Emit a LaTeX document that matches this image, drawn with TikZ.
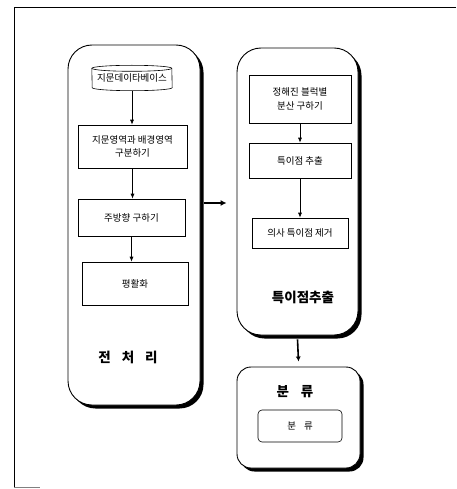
\documentclass[tikz,border=0pt]{standalone}
\usepackage{fontspec}
\setmainfont{Noto Sans CJK KR}
\usetikzlibrary{arrows.meta,shadows}
\tikzset{
  panel/.style={draw, line width=0.9pt, rounded corners=24pt, fill=white,
    drop shadow={shadow xshift=3.5pt, shadow yshift=-3.5pt, fill=black, opacity=1}},
  stepbox/.style={draw, line width=0.6pt, fill=white, font=\fontsize{9.5}{13.5}\selectfont,
    align=center, inner sep=0pt},
  flow/.style={-{Latex[length=5pt,width=4pt]}, line width=0.7pt},
  bigflow/.style={-{Latex[length=6pt,width=6pt]}, line width=2pt},
  titletext/.style={font=\fontsize{13.5}{15}\selectfont\bfseries},
  frameline/.style={line width=0.8pt}
}
\begin{document}
\begin{tikzpicture}[x=1pt,y=1pt]
\useasboundingbox (0,0) rectangle (456,-489);
% outer frame
\coordinate (ftl) at (14,-7);
\coordinate (ftr) at (456,-7);
\coordinate (fbl) at (14,-487);
\coordinate (fbr) at (40,-487);
\draw[frameline] (ftr) -- (ftl) -- (fbl);
\draw[line width=0.5pt, black!50] (fbl) -- (fbr);

% panels
\node[panel, minimum width=132pt, minimum height=360pt] (pre) at (134,-225) {};
\node[panel, minimum width=121pt, minimum height=287pt] (sing) at (297.5,-191.5) {};
\node[panel, rounded corners=14pt, minimum width=123pt, minimum height=101pt] (cls) at (298.5,-417.5) {};

% database cylinder
\node[font=\fontsize{9.5}{11}\selectfont, minimum width=80pt, minimum height=25pt, inner sep=0pt] (db) at (132,-78) {지문데이타베이스};
\draw[line width=0.6pt] (db.north west) ++(0,-3) arc (180:0:40 and 3) -- ([yshift=3pt]db.south east) arc (0:-180:40 and 3) -- cycle;
\draw[line width=0.6pt] (db.north west) ++(0,-3) arc (180:360:40 and 3);

% left steps
\node[stepbox, minimum width=109pt, minimum height=43pt] (b2) at (132.5,-146.5) {지문영역과 배경영역\\구분하기};
\node[stepbox, minimum width=107pt, minimum height=37pt] (b3) at (131.5,-217.5) {주방향 구하기};
\node[stepbox, minimum width=106pt, minimum height=43pt] (b4) at (135,-283.5) {평활화};
\node[titletext] (t1) at (128,-357) {전\hspace{11pt}처\hspace{11pt}리};

\draw[flow] (db.south) -- (db.south |- b2.north);
\draw[flow] (b2.south) -- (b2.south |- b3.north);
\draw[flow] (b3.south) -- (b3.south |- b4.north);

% right steps
\node[stepbox, minimum width=102pt, minimum height=48pt] (r1) at (300,-99) {정해진 블럭별\\분산 구하기};
\node[stepbox, minimum width=102pt, minimum height=35pt] (r2) at (300,-160.5) {특이점 추출};
\node[stepbox, minimum width=96pt, minimum height=30pt] (r3) at (300,-233) {의사 특이점 제거};
\node[titletext] (t2) at (303,-297) {특이점추출};

\draw[flow] (r1.south) -- (r1.south |- r2.north);
\draw[flow] (r2.south) -- (r2.south |- r3.north);

% classification
\node[titletext] (t3) at (295,-392) {분\hspace{12pt}류};
\node[stepbox, rounded corners=4pt, minimum width=84pt, minimum height=32pt] (c1) at (300,-426) {분\hspace{8pt}류};

% panel connectors
\draw[bigflow] ([xshift=4pt,yshift=22pt]pre.east) -- ([xshift=-10pt]sing.west |- 0,-203);
\draw[-{Latex[length=5pt,width=5pt]}, line width=1.6pt] ([yshift=-4pt]sing.south) -- ([yshift=5pt]cls.north);
\end{tikzpicture}
\end{document}
